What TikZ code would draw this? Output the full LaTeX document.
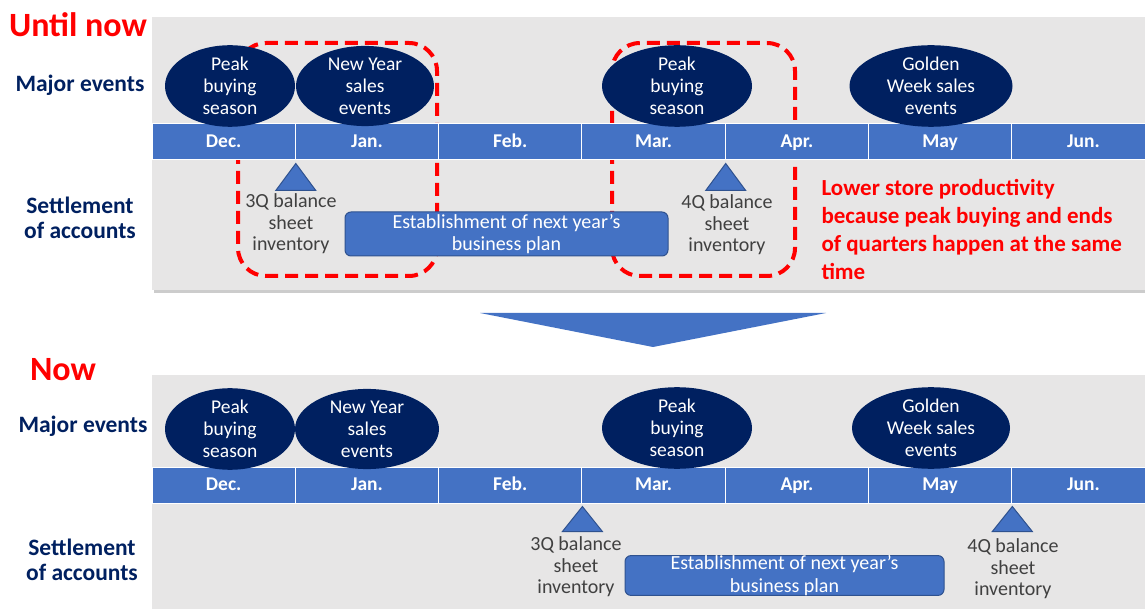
\documentclass[tikz,border=0pt]{standalone}
\usepackage{fontspec}
\setmainfont{Carlito}
\usepackage{tikz}
\usetikzlibrary{positioning,shapes.geometric}

\definecolor{panelgray}{HTML}{E7E6E6}
\definecolor{barblue}{HTML}{4472C4}
\definecolor{navy}{HTML}{002060}
\definecolor{boxedge}{HTML}{2F528F}
\definecolor{alertred}{HTML}{FF0000}
\definecolor{textgray}{HTML}{404040}

\begin{document}
\begin{tikzpicture}[x=1pt,y=-1pt,node distance=143.3pt,
    month node/.style={rectangle,draw=white,line width=1pt,fill=barblue,minimum width=143.3pt,
      minimum height=36pt,inner sep=0pt,text=white,text height=2.3ex,text depth=0pt,
      font=\fontsize{19.5}{21}\selectfont\bfseries},
    event node/.style={ellipse,fill=navy,text=white,minimum height=67pt,inner sep=0pt,
      align=center,font=\fontsize{19.5}{22}\selectfont},
    row node/.style={text=navy,align=center,font=\fontsize{23.5}{25}\selectfont\bfseries},
    title node/.style={text=alertred,font=\fontsize{34}{36}\selectfont\bfseries},
    stock node/.style={text=textgray,align=center,font=\fontsize{20}{21.5}\selectfont},
    plan node/.style={rectangle,rounded corners=6pt,fill=barblue,draw=boxedge,line width=1pt,
      text=white,align=center,inner sep=0pt,font=\fontsize{20}{22.5}\selectfont},
    marker/.style={fill=barblue,draw=boxedge,line width=1pt,line join=miter},
    alert box/.style={draw=alertred,line width=4pt,dash pattern=on 13pt off 7pt,rounded corners=28pt},
    panel/.style={fill=panelgray}]

  \useasboundingbox (0,0) rectangle (1145,609);

  %Until now%
  \fill[black!20] (154,20) rectangle (1148,293);
  \fill[panel] (152,17) rectangle (1145,290);
  \draw[alert box] (238,43) rectangle (437,276);
  \draw[alert box] (612,43) rectangle (795,276);

  \node[title node] (until) at (78,25) {Until now};
  \node[row node] (major1) at (80,85) {Major events};
  \node[row node] (settle1) at (80,218) {Settlement\\of accounts};

  \node[month node] (dec1) at (223.65,142) {Dec.};
  \node[month node] (jan1) [right of=dec1] {Jan.};
  \node[month node] (feb1) [right of=jan1] {Feb.};
  \node[month node] (mar1) [right of=feb1] {Mar.};
  \node[month node] (apr1) [right of=mar1] {Apr.};
  \node[month node] (may1) [right of=apr1] {May};
  \node[month node] (jun1) [right of=may1] {Jun.};

  \node[event node,minimum width=130pt] (peak1) at (230,86) {Peak\\buying\\season};
  \node[event node,minimum width=138pt] (newyear1) at (365,86) {New Year\\sales\\events};
  \node[event node,minimum width=150pt] (peak2) at (677,86) {Peak\\buying\\season};
  \node[event node,minimum width=163pt] (golden1) at (931,86) {Golden\\Week sales\\events};

  \node[plan node,minimum width=323pt,minimum height=44pt] (plan1) at (506.5,234)
    {Establishment of next year's\\business plan};

  \coordinate (q3a) at (dec1.south east);
  \coordinate (q4a) at (mar1.south east);
  \draw[marker] (q3a) ++(0,3) -- ++(20,27) -- ++(-40,0) -- cycle;
  \draw[marker] (q4a) ++(0,3) -- ++(20,27) -- ++(-40,0) -- cycle;
  \node[stock node] (q3text1) at (291,224) {3Q balance\\sheet\\inventory};
  \node[stock node] (q4text1) at (727,225) {4Q balance\\sheet\\inventory};

  \node[anchor=north west,align=left,text=alertred,font=\fontsize{23}{28}\selectfont\bfseries]
    (note) at (818,176) {Lower store productivity\\because peak buying and ends\\of quarters happen at the same\\time};

  %Arrow%
  \fill[barblue] (480,313) -- (826,313) -- (653,347) -- cycle;

  %Now%
  \fill[panel] (152,375) rectangle (1145,612);

  \node[title node] (now) at (63,370) {Now};
  \node[row node] (major2) at (83,426) {Major events};
  \node[row node] (settle2) at (82,560) {Settlement\\of accounts};

  \node[month node] (dec2) at (223.65,485) {Dec.};
  \node[month node] (jan2) [right of=dec2] {Jan.};
  \node[month node] (feb2) [right of=jan2] {Feb.};
  \node[month node] (mar2) [right of=feb2] {Mar.};
  \node[month node] (apr2) [right of=mar2] {Apr.};
  \node[month node] (may2) [right of=apr2] {May};
  \node[month node] (jun2) [right of=may2] {Jun.};

  \node[event node,minimum width=130pt,minimum height=65pt] (peak3) at (230,429) {Peak\\buying\\season};
  \node[event node,minimum width=144pt,minimum height=65pt] (newyear2) at (367,429) {New Year\\sales\\events};
  \node[event node,minimum width=150pt,minimum height=65pt] (peak4) at (677,428) {Peak\\buying\\season};
  \node[event node,minimum width=158pt,minimum height=65pt] (golden2) at (931,428) {Golden\\Week sales\\events};

  \node[plan node,minimum width=319pt,minimum height=39pt] (plan2) at (784.5,575.5)
    {Establishment of next year's\\business plan};

  \coordinate (q3b) at (feb2.south east);
  \coordinate (q4b) at (may2.south east);
  \draw[marker] (q3b) ++(0,3) -- ++(20,25) -- ++(-40,0) -- cycle;
  \draw[marker] (q4b) ++(0,3) -- ++(20,25) -- ++(-40,0) -- cycle;
  \node[stock node] (q3text2) at (576,567) {3Q balance\\sheet\\inventory};
  \node[stock node] (q4text2) at (1013,569) {4Q balance\\sheet\\inventory};
\end{tikzpicture}
\end{document}
